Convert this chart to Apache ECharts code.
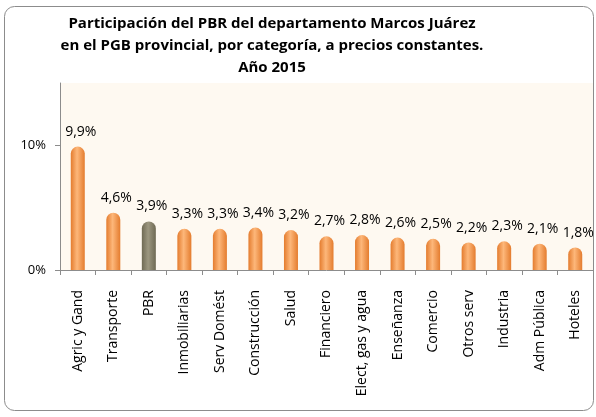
<!DOCTYPE html>
<html>
<head>
<meta charset="utf-8">
<script src="https://cdn.jsdelivr.net/npm/echarts@6/dist/echarts.min.js"></script>
<style>
  html, body { margin: 0; padding: 0; background: #fff; }
  #chart { width: 596px; height: 417px; }
</style>
</head>
<body>
<div id="chart"></div>
<script>
// categorías y participación (%)
const categories = ['Agric y Gand', 'Transporte', 'PBR', 'Inmobiliarias', 'Serv Domést', 'Construcción', 'Salud',
  'Financiero', 'Elect, gas y agua', 'Enseñanza', 'Comercio', 'Otros serv', 'Industria', 'Adm Pública', 'Hoteles']
const values = [9.9, 4.6, 3.9, 3.3, 3.3, 3.4, 3.2, 2.7, 2.8, 2.6, 2.5, 2.2, 2.3, 2.1, 1.8]
const yTicks = [0, 10]
const highlight = 'PBR'
const titleText = 'Participación del PBR del departamento Marcos Juárez\nen el PGB provincial, por categoría, a precios constantes.\nAño 2015'

const font = '"Open Sans", "Noto Sans", sans-serif'

// cilindro naranja / gris
const cyl = (edge, mid) => new echarts.graphic.LinearGradient(0, 0, 1, 0, [
  { offset: 0, color: edge },
  { offset: 0.45, color: mid },
  { offset: 1, color: edge }
])
const orange = cyl('#E47C2E', '#FDB77A')
const gray = cyl('#6F6A54', '#9C9780')

const chart = echarts.init(document.getElementById('chart'))

chart.setOption({
  animation: false,
  backgroundColor: '#fff',
  graphic: [{
    type: 'rect',
    shape: { x: 4.5, y: 6.5, width: 589, height: 404, r: 10 },
    style: { fill: 'none', stroke: '#8c8c8c', lineWidth: 1 },
    z: -1
  }, {
    // título centrado algo a la izquierda, como en el original
    type: 'text',
    x: 272,
    y: 13,
    style: {
      text: titleText,
      align: 'center',
      verticalAlign: 'top',
      fontFamily: font,
      fontSize: 15,
      fontWeight: 'bold',
      fill: '#000',
      lineHeight: 22
    }
  }],
  grid: {
    left: 60,
    right: 3,
    top: 83,
    bottom: 147,
    show: true,
    backgroundColor: '#FEF9F1',
    borderWidth: 0
  },
  xAxis: {
    type: 'category',
    data: categories,
    axisLine: { lineStyle: { color: '#8c8c8c' } },
    axisTick: { show: true, length: 5, lineStyle: { color: '#8c8c8c' } },
    axisLabel: {
      rotate: 90,
      interval: 0,
      margin: 20,
      fontFamily: font,
      fontSize: 14,
      color: '#000'
    }
  },
  yAxis: {
    type: 'value',
    min: 0,
    max: 15,
    interval: 5,
    axisLine: { show: true, lineStyle: { color: '#8c8c8c' } },
    axisTick: { show: true, length: 5, customValues: yTicks, lineStyle: { color: '#8c8c8c' } },
    splitLine: { show: false },
    axisLabel: {
      customValues: yTicks,
      margin: 14,
      fontFamily: font,
      fontSize: 13,
      color: '#000',
      formatter: v => v + '%'
    }
  },
  series: [{
    type: 'bar',
    data: values.map((v, i) => ({
      value: v,
      itemStyle: { color: categories[i] === highlight ? gray : orange }
    })),
    barWidth: 14,
    itemStyle: { borderRadius: [7, 7, 0, 0] },
    label: {
      show: true,
      position: 'top',
      distance: 8,
      offset: [3, 0],
      fontFamily: font,
      fontSize: 14,
      color: '#000',
      formatter: p => String(p.value).replace('.', ',') + '%'
    }
  }]
})
</script>
</body>
</html>
